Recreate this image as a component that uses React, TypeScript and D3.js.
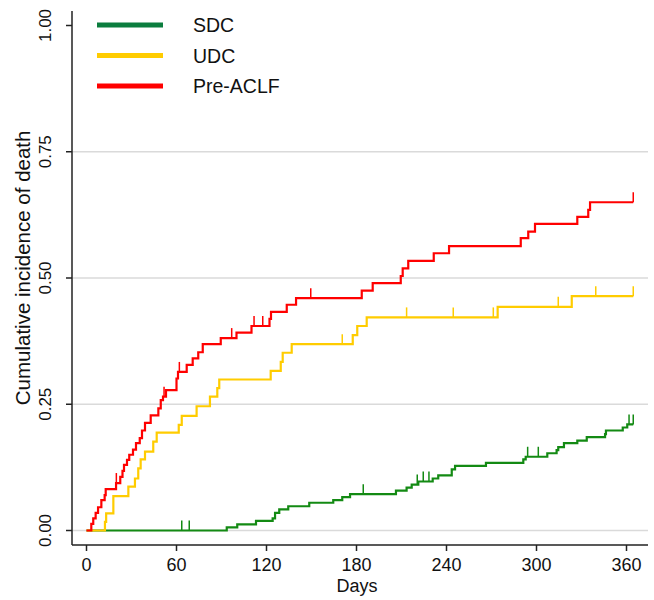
import React, { useEffect, useRef } from "react";
import * as d3 from "d3";

// group names + colours for legend
const groups = ["SDC", "UDC", "Pre-ACLF"];
const lineColors = ["#138a13", "#ffcc00", "#ff0000"];
const legendColors = ["#0b7d3e", "#ffcc00", "#ff0000"];

// step points [day, cumulative incidence]
const sdcSteps: [number, number][] = [
  [93.5, 0.006], [100.5, 0.012], [113, 0.019], [124.1, 0.024], [125.7, 0.035], [128.5, 0.042],
  [134.5, 0.048], [148.5, 0.055], [164.5, 0.06], [170.5, 0.066], [175.7, 0.072], [206.3, 0.079],
  [213.4, 0.085], [216.8, 0.091], [221.2, 0.097], [230.8, 0.103], [234.5, 0.109], [243.5, 0.121],
  [245.7, 0.128], [266.3, 0.134], [291.2, 0.141], [292.8, 0.146], [307.2, 0.153], [313.4, 0.159],
  [314.5, 0.165], [318.3, 0.173], [327.2, 0.178], [333.5, 0.185], [345.7, 0.191], [346.3, 0.198],
  [357.5, 0.204], [360.5, 0.21],
];
const udcSteps: [number, number][] = [
  [12.3, 0.017], [13.1, 0.034], [17.9, 0.068], [27.9, 0.087], [32.3, 0.103], [34.5, 0.123],
  [36.1, 0.141], [39, 0.156], [44.5, 0.176], [46.8, 0.194], [61.5, 0.209], [63.5, 0.227],
  [73.4, 0.246], [82.3, 0.265], [87.2, 0.282], [88.5, 0.299], [122.8, 0.316], [129.5, 0.334],
  [130.8, 0.352], [136.8, 0.369], [177.5, 0.387], [180.5, 0.405], [186.8, 0.422], [274.1, 0.443],
  [323.5, 0.464],
];
const preAclfSteps: [number, number][] = [
  [3.2, 0.013], [4.5, 0.024], [6.1, 0.035], [7.7, 0.046], [9.9, 0.06], [12.1, 0.07], [12.8, 0.082],
  [19.7, 0.094], [22.5, 0.106], [24, 0.118], [25, 0.13], [27, 0.14], [28.5, 0.15], [31, 0.16],
  [33, 0.173], [35.5, 0.183], [37, 0.198], [39, 0.213], [42.8, 0.228], [47.9, 0.242], [49.5, 0.258],
  [51, 0.265], [53, 0.278], [60, 0.301], [61, 0.314], [66.8, 0.328], [70.8, 0.341], [74.5, 0.353],
  [77.5, 0.369], [89.5, 0.381], [100, 0.392], [110, 0.405], [122, 0.419], [123, 0.433], [133.5, 0.447],
  [139.7, 0.46], [183.5, 0.475], [190.8, 0.49], [209.5, 0.504], [210.8, 0.519], [214.5, 0.534],
  [231.5, 0.549], [241.7, 0.563], [289.5, 0.579], [294.5, 0.592], [299, 0.607], [327.2, 0.621],
  [334.5, 0.635], [335.7, 0.65],
];

// censoring times (small vertical ticks)
const sdcCensor = [63.5, 68.5, 184.5, 220.5, 224.5, 228.3, 294.1, 301.2, 361.7, 364.5];
const udcCensor = [170.5, 213.4, 244.5, 271.2, 314.5, 339.5, 364.5];
const preAclfCensor = [19.9, 51.7, 61.9, 96.8, 111.7, 117.5, 149.5, 364.5];

const lastDay = 364.5;
const xTicks = [0, 60, 120, 180, 240, 300, 360];
const yTicks = [0, 0.25, 0.5, 0.75, 1];

const font = "'Liberation Sans', Arial, sans-serif";

const App = () => {
  const ref = useRef<SVGSVGElement>(null);

  useEffect(() => {
    const width = 654;
    const height = 600;
    const svg = d3.select(ref.current).attr("width", width).attr("height", height);
    svg.selectAll("*").remove();

    const x = d3.scaleLinear().domain([0, 360]).range([86.5, 626.5]);
    const y = d3.scaleLinear().domain([0, 1]).range([530.5, 25.5]);
    const left = 72;
    const right = 648;
    const bottom = 545;
    const top = 11;

    svg.append("rect").attr("width", width).attr("height", height).attr("fill", "white");

    // grid
    yTicks.filter((t) => t < 1).forEach((t) => {
      svg.append("line")
        .attr("x1", left).attr("x2", right)
        .attr("y1", y(t)).attr("y2", y(t))
        .attr("stroke", "#dadada").attr("stroke-width", 1.5);
    });

    // curves
    const series = [
      { steps: sdcSteps, censor: sdcCensor },
      { steps: udcSteps, censor: udcCensor },
      { steps: preAclfSteps, censor: preAclfCensor },
    ];
    const line = d3.line<[number, number]>()
      .x((d) => x(d[0]))
      .y((d) => y(d[1]))
      .curve(d3.curveStepAfter);

    series.forEach((s, i) => {
      const pts: [number, number][] = [[0, 0], ...s.steps];
      pts.push([lastDay, pts[pts.length - 1][1]]);
      svg.append("path")
        .attr("d", line(pts))
        .attr("fill", "none")
        .attr("stroke", lineColors[i])
        .attr("stroke-width", 2.2);

      s.censor.forEach((c) => {
        let v = 0;
        pts.forEach((p) => { if (p[0] <= c) v = p[1]; });
        svg.append("line")
          .attr("x1", x(c)).attr("x2", x(c))
          .attr("y1", y(v)).attr("y2", y(v) - 10)
          .attr("stroke", lineColors[i])
          .attr("stroke-width", 1.5);
      });
    });

    // axes
    svg.append("line").attr("x1", left).attr("x2", left).attr("y1", top).attr("y2", bottom)
      .attr("stroke", "#222").attr("stroke-width", 1.5);
    svg.append("line").attr("x1", left).attr("x2", right).attr("y1", bottom).attr("y2", bottom)
      .attr("stroke", "#222").attr("stroke-width", 1.5);

    yTicks.forEach((t) => {
      svg.append("line").attr("x1", left - 6).attr("x2", left).attr("y1", y(t)).attr("y2", y(t))
        .attr("stroke", "#222").attr("stroke-width", 1.5);
      svg.append("text")
        .attr("transform", `translate(51,${y(t)}) rotate(-90)`)
        .attr("text-anchor", "middle")
        .attr("font-family", font).attr("font-size", 17).attr("fill", "#111")
        .text(d3.format(".2f")(t));
    });

    xTicks.forEach((t) => {
      svg.append("line").attr("x1", x(t)).attr("x2", x(t)).attr("y1", bottom).attr("y2", bottom + 6)
        .attr("stroke", "#222").attr("stroke-width", 1.5);
      svg.append("text")
        .attr("x", x(t)).attr("y", 571)
        .attr("text-anchor", "middle")
        .attr("font-family", font).attr("font-size", 18).attr("fill", "#111")
        .text(t);
    });

    svg.append("text")
      .attr("x", 357).attr("y", 592)
      .attr("text-anchor", "middle")
      .attr("font-family", font).attr("font-size", 18).attr("fill", "#111")
      .text("Days");

    svg.append("text")
      .attr("transform", `translate(30,${y(0.52)}) rotate(-90)`)
      .attr("text-anchor", "middle")
      .attr("font-family", font).attr("font-size", 20.5).attr("fill", "#111")
      .text("Cumulative incidence of death");

    // legend
    groups.forEach((g, i) => {
      const ly = 25 + i * 30.5;
      svg.append("line").attr("x1", 97).attr("x2", 163).attr("y1", ly).attr("y2", ly)
        .attr("stroke", legendColors[i]).attr("stroke-width", 5);
      svg.append("text")
        .attr("x", 193).attr("y", ly)
        .attr("dominant-baseline", "central")
        .attr("font-family", font).attr("font-size", 19.5).attr("fill", "#111")
        .text(g);
    });
  }, []);

  return (
    <div style={{ position: "absolute", left: 0, top: 0 }}>
      <svg ref={ref} style={{ display: "block" }}></svg>
    </div>
  );
};

export default App;
